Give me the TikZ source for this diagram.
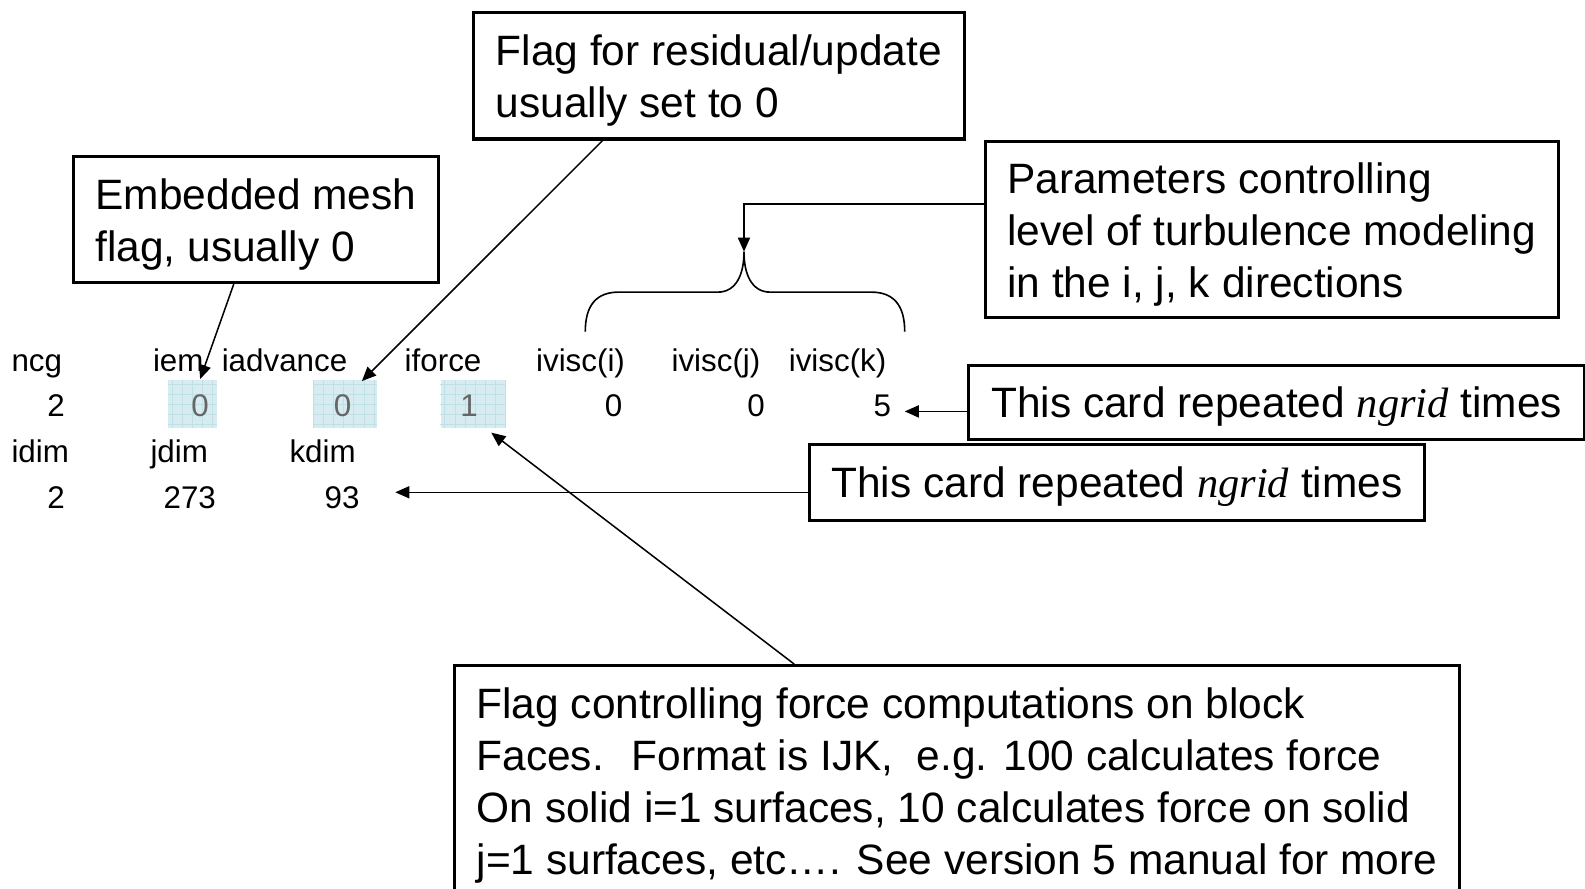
\documentclass[tikz,border=0pt]{standalone}
\usepackage{fontspec}
\setmainfont{Liberation Sans}
\newfontfamily\ngridfont{Liberation Serif}
\usetikzlibrary{arrows.meta}
\definecolor{cellfill}{RGB}{214,236,240}
\definecolor{cellline}{RGB}{192,224,230}

\begin{document}
\begin{tikzpicture}[x=0.5pt,y=-0.5pt,
  callout/.style={draw, line width=1.5pt, inner xsep=11pt, inner ysep=0pt,
    align=left, anchor=north west, font=\fontsize{21}{25.75}\selectfont},
  lbl/.style={inner sep=0pt, anchor=base west, font=\fontsize{15.5}{18}\selectfont},
  val/.style={inner sep=0pt, anchor=base east, font=\fontsize{15.5}{18}\selectfont},
  hval/.style={val, text=black!60},
  cell/.style={fill=cellfill, draw=none, inner sep=0pt},
  cellgrid/.style={draw=cellline, line width=0.3pt, step=5pt},
  pointer/.style={line width=0.75pt, -{Triangle[length=7pt,width=6pt]}},
  bracestroke/.style={line width=0.8pt}
]
\useasboundingbox (0,0) rectangle (1568,879);
\clip (0,0) rectangle (1568,879);

% highlighted entries of the first card
\node[cell, minimum width=24pt, minimum height=23.5pt] (cellA) at (190.5,399.5) {};
\node[cell, minimum width=31.5pt, minimum height=23.5pt] (cellB) at (341.5,399.5) {};
\node[cell, minimum width=32pt, minimum height=23.5pt] (cellC) at (468,399.5) {};
\draw[cellgrid] (cellA.south west) grid (cellA.north east);
\draw[cellgrid] (cellB.south west) grid (cellB.north east);
\draw[cellgrid] (cellC.south west) grid (cellC.north east);

% card: ncg iem iadvance iforce ivisc
\node[lbl] (hNcg) at (11,368) {ncg};
\node[lbl] (hIem) at (151,368) {iem};
\node[lbl] (hAdv) at (219,368) {iadvance};
\node[lbl] (hFrc) at (400,368) {iforce};
\node[lbl] (hVi) at (530,368) {ivisc(i)};
\node[lbl] (hVj) at (664,368) {ivisc(j)};
\node[lbl] (hVk) at (780,368) {ivisc(k)};

\node[val] (vNcg) at (64.5,412) {2};
\node[hval] (vIem) at (207,412) {0};
\node[hval] (vAdv) at (348,412) {0};
\node[hval] (vFrc) at (473,412) {1};
\node[val] (vVi) at (616,412) {0};
\node[val] (vVj) at (757,412) {0};
\node[val] (vVk) at (882,412) {5};

% card: idim jdim kdim
\node[lbl] (hIdim) at (11,458) {idim};
\node[lbl] (hJdim) at (148.5,458) {jdim};
\node[lbl] (hKdim) at (286,458) {kdim};
\node[val] (vIdim) at (64.5,503) {2};
\node[val] (vJdim) at (214,503) {273};
\node[val] (vKdim) at (356,503) {93};

% explanatory boxes
\node[callout, text height=46pt, minimum height=62.5pt] (resid) at (467,11)
  {Flag for residual/update\\usually set to 0};
\node[callout, text height=46pt, minimum height=62.5pt] (embed) at (71,153)
  {Embedded mesh\\flag, usually 0};
\node[callout, text height=72pt, minimum height=87.5pt] (params) at (973,138)
  {Parameters controlling\\level of turbulence modeling\\in the i, j, k directions};
\node[callout, text height=19pt, minimum height=36.5pt] (cardA) at (957,360)
  {This card repeated {\ngridfont\itshape ngrid} times};
\node[callout, text height=20pt, minimum height=37.5pt] (cardB) at (799,438)
  {This card repeated {\ngridfont\itshape ngrid} times};
\node[callout, inner ysep=11pt, text depth=30pt] (force) at (448,657)
  {Flag controlling force computations on block\\
   Faces.~ Format is IJK,~ e.g. 100 calculates force\\
   On solid i=1 surfaces, 10 calculates force on solid\\
   j=1 surfaces, etc…. See version 5 manual for more};

% brace over the ivisc entries
\coordinate (braceTip) at (736,249);
\coordinate (braceBend) at (736,202);
\draw[bracestroke] (579,328) .. controls (579,302) and (590,289) .. (612,289)
  -- (710,289) .. controls (728,289) and (736,272) .. (braceTip)
  .. controls (736,272) and (744,289) .. (762,289)
  -- (862,289) .. controls (884,289) and (895,302) .. (895,328);

% pointers
\coordinate (tipIem) at (198,375);
\coordinate (tipAdv) at (358,377);
\coordinate (tipFrc) at (486,428);
\coordinate (tipFive) at (895,407);
\coordinate (tipDims) at (391,487);
\draw[pointer] ([xshift=-11pt]embed.south) -- (tipIem);
\draw[pointer] ([xshift=-57.5pt]resid.south) -- (tipAdv);
\draw[pointer] ([xshift=-80.5pt]force.north) -- (tipFrc);
\draw[pointer] (params.west |- braceBend) -- (braceBend) -- (braceTip);
\draw[pointer] (cardA.west |- tipFive) -- (tipFive);
\draw[pointer] (cardB.west |- tipDims) -- (tipDims);
\end{tikzpicture}
\end{document}
